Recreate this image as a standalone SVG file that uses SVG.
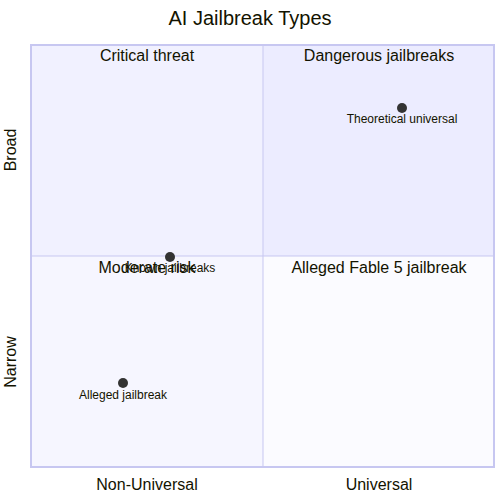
<svg xmlns="http://www.w3.org/2000/svg" width="500" height="500" viewBox="0 0 500 500">
<style>
text{font-family:"Liberation Sans",Arial,sans-serif;fill:#131300}
.ql{font-size:16px;text-anchor:middle}
.ax{font-size:16px;text-anchor:middle}
.pl{font-size:12px;text-anchor:middle}
.pt{fill:#333333}
.in{stroke:#c7c7f1;stroke-width:1}
</style>
<rect width="500" height="500" fill="#ffffff"/>
<text x="250" y="25" font-size="20" text-anchor="middle">AI Jailbreak Types</text>
<g id="quadrants">
<g id="q2"><rect x="31" y="45" width="232" height="211" fill="#f1f1ff"/><text class="ql" x="147" y="61">Critical threat</text></g>
<g id="q1"><rect x="263" y="45" width="231" height="211" fill="#ececff"/><text class="ql" x="379" y="61">Dangerous jailbreaks</text></g>
<g id="q3"><rect x="31" y="256" width="232" height="211" fill="#f6f6ff"/><text class="ql" x="147" y="273">Moderate risk</text></g>
<g id="q4"><rect x="263" y="256" width="231" height="211" fill="#fbfbff"/><text class="ql" x="379" y="273">Alleged Fable 5 jailbreak</text></g>
</g>
<g id="connectors">
<line class="in" x1="263" y1="45" x2="263" y2="467"/>
<line class="in" x1="31" y1="256" x2="494" y2="256"/>
<rect x="31" y="45" width="463" height="422" fill="none" stroke="#c7c7f1" stroke-width="2"/>
</g>
<g id="axes">
<text class="ax" x="147" y="490">Non-Universal</text>
<text class="ax" x="379" y="490">Universal</text>
<text class="ax" transform="translate(16,150) rotate(-90)">Broad</text>
<text class="ax" transform="translate(16,362) rotate(-90)">Narrow</text>
</g>
<g id="p-theoretical"><circle class="pt" cx="402" cy="108" r="5"/><text class="pl" x="402" y="122.5">Theoretical universal</text></g>
<g id="p-known"><circle class="pt" cx="170" cy="257" r="5"/><text class="pl" x="170" y="271.5">Known jailbreaks</text></g>
<g id="p-alleged"><circle class="pt" cx="123" cy="383" r="5"/><text class="pl" x="123" y="398.5">Alleged jailbreak</text></g>
</svg>
